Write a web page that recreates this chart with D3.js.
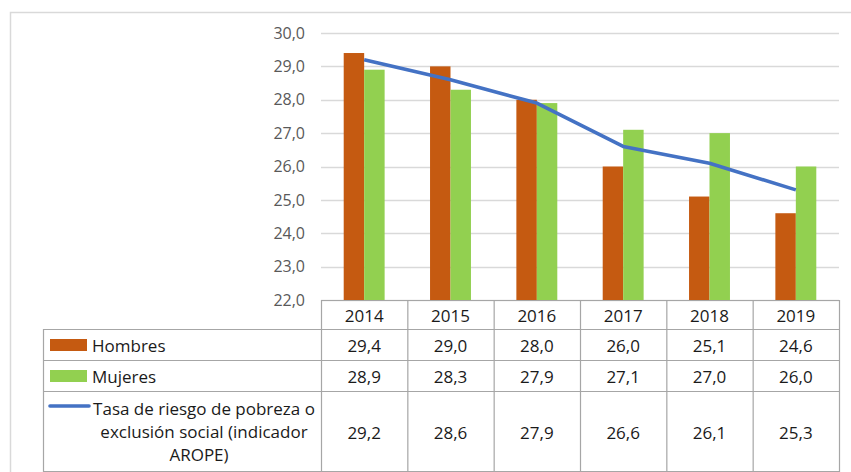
<!DOCTYPE html>
<html>
<head>
<meta charset="utf-8">
<script src="https://cdn.jsdelivr.net/npm/d3@7"></script>
<style>
  body { margin: 0; background: #fff; }
  svg { display: block; font-family: "Open Sans", Lato, sans-serif; }
</style>
</head>
<body>
<svg id="chart" width="851" height="472"></svg>
<script>
var years = ["2014", "2015", "2016", "2017", "2018", "2019"];
var hombres = [29.4, 29.0, 28.0, 26.0, 25.1, 24.6];
var mujeres = [28.9, 28.3, 27.9, 27.1, 27.0, 26.0];
var arope = [29.2, 28.6, 27.9, 26.6, 26.1, 25.3];
var yTicks = [22, 23, 24, 25, 26, 27, 28, 29, 30];

var _color = {
  hombres: "#c55a11",
  mujeres: "#92d050",
  arope: "#4472c4",
  grid: "#d9d9d9",
  table: "#a6a6a6"
};

var fmt = function(v){ return v.toFixed(1).replace(".", ","); };

var svg = d3.select("#chart"),
    plot = {left: 321, right: 839, top: 33, bottom: 300};

// outer frame (top + left edges visible)
svg.append("path")
  .attr("d", "M10.5,472 V12.5 H851")
  .attr("fill", "none").attr("stroke", _color.grid).attr("stroke-width", 1.5);

var x = d3.scaleBand().domain(years).range([plot.left, plot.right]).paddingInner(0).paddingOuter(0),
    y = d3.scaleLinear().domain([22, 30]).range([plot.bottom, plot.top]);

var barW = x.bandwidth() * 0.237;

// gridlines
svg.append("g").selectAll("line")
  .data(yTicks).enter().append("line")
  .attr("x1", plot.left).attr("x2", plot.right)
  .attr("y1", function(d){ return Math.round(y(d)) + 0.5; })
  .attr("y2", function(d){ return Math.round(y(d)) + 0.5; })
  .attr("stroke", _color.grid).attr("stroke-width", 1.5);

// y axis labels
var yAxis = d3.axisLeft(y).tickValues(yTicks).tickFormat(fmt).tickSize(0).tickPadding(16);
var ga = svg.append("g").attr("transform", "translate(" + plot.left + ",0)").call(yAxis);
ga.select(".domain").remove();
ga.selectAll("text").attr("fill", "#595959").style("font-size", "16px").style("font-family", "'Open Sans', sans-serif");

// bars
var cx = function(i){ return x(years[i]) + x.bandwidth() / 2; };
svg.append("g").selectAll("rect")
  .data(hombres).enter().append("rect")
  .attr("x", function(d, i){ return cx(i) - barW; })
  .attr("width", barW)
  .attr("y", function(d){ return y(d); })
  .attr("height", function(d){ return y(22) - y(d); })
  .attr("fill", _color.hombres);

svg.append("g").selectAll("rect")
  .data(mujeres).enter().append("rect")
  .attr("x", function(d, i){ return cx(i); })
  .attr("width", barW)
  .attr("y", function(d){ return y(d); })
  .attr("height", function(d){ return y(22) - y(d); })
  .attr("fill", _color.mujeres);

// line
var line = d3.line()
  .x(function(d, i){ return cx(i); })
  .y(function(d){ return y(d); });
svg.append("path")
  .datum(arope)
  .attr("d", line)
  .attr("fill", "none")
  .attr("stroke", _color.arope)
  .attr("stroke-width", 3.6)
  .attr("stroke-linejoin", "round");

// data table
var tbl = svg.append("g"),
    tLeft = 43,
    rows = [300, 329, 360, 391, 471];

var hl = function(x1, x2, yy){
  tbl.append("line").attr("x1", x1).attr("x2", x2).attr("y1", yy + 0.5).attr("y2", yy + 0.5)
    .attr("stroke", _color.table).attr("stroke-width", 1.2);
};
var vl = function(xx, y1, y2){
  tbl.append("line").attr("x1", xx + 0.5).attr("x2", xx + 0.5).attr("y1", y1).attr("y2", y2)
    .attr("stroke", _color.table).attr("stroke-width", 1.2);
};

hl(plot.left, plot.right, rows[0]);
hl(tLeft, plot.right, rows[1]);
hl(tLeft, plot.right, rows[2]);
hl(tLeft, plot.right, rows[3]);
hl(tLeft, plot.right, rows[4]);
vl(tLeft, rows[1], rows[4] + 1);
years.forEach(function(yr, i){ vl(x(yr), rows[0], rows[4] + 1); });
vl(plot.right, rows[0], rows[4] + 1);

var cellText = function(tx, ty, s){
  tbl.append("text").attr("x", tx).attr("y", ty)
    .attr("text-anchor", "middle").attr("dominant-baseline", "central")
    .attr("fill", "#1a1a1a").style("font-size", "17px").text(s);
};

years.forEach(function(yr, i){
  cellText(cx(i), 315, yr);
  cellText(cx(i), 345, fmt(hombres[i]));
  cellText(cx(i), 376, fmt(mujeres[i]));
  cellText(cx(i), 432, fmt(arope[i]));
});

// legend keys in the table
tbl.append("rect").attr("x", 50).attr("y", 339).attr("width", 37).attr("height", 12).attr("fill", _color.hombres);
tbl.append("rect").attr("x", 50).attr("y", 370).attr("width", 37).attr("height", 12).attr("fill", _color.mujeres);
tbl.append("line").attr("x1", 50).attr("x2", 89).attr("y1", 406).attr("y2", 406)
  .attr("stroke", _color.arope).attr("stroke-width", 3.6).attr("stroke-linecap", "round");

var lbl = function(tx, ty, s, anchor){
  tbl.append("text").attr("x", tx).attr("y", ty)
    .attr("text-anchor", anchor || "start").attr("dominant-baseline", "central")
    .attr("fill", "#1a1a1a").style("font-size", "17px").text(s);
};
lbl(92, 345, "Hombres");
lbl(92, 376, "Mujeres");
lbl(204, 408, "Tasa de riesgo de pobreza o", "middle");
lbl(204, 431, "exclusión social (indicador", "middle");
lbl(199, 454, "AROPE)", "middle");
</script>
</body>
</html>
